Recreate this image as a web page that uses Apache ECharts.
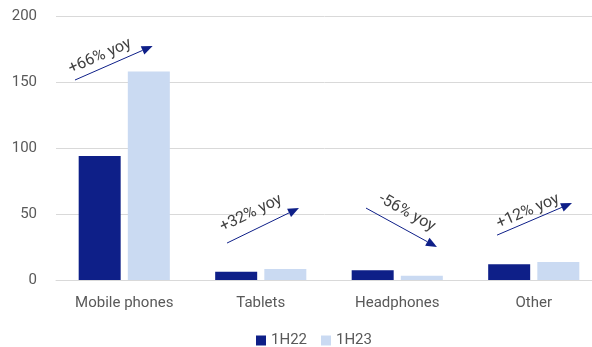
<!DOCTYPE html>
<html>
<head>
<meta charset="utf-8">
<script src="https://cdn.jsdelivr.net/npm/echarts@6/dist/echarts.min.js"></script>
<style>
  html, body { margin: 0; padding: 0; background: #ffffff; }
  #chart { width: 592px; height: 347px; }
</style>
</head>
<body>
<div id="chart"></div>
<script>
// Device sales by category, first half of each year
const categories = ['Mobile phones', 'Tablets', 'Headphones', 'Other'];
const sales1H22 = [94, 6.3, 7.3, 12];
const sales1H23 = [158, 8.3, 3.3, 13.6];
const yoyLabels = ['+66% yoy', '+32% yoy', '-56% yoy', '+12% yoy'];
const yTicks = [0, 50, 100, 150, 200];

// Arrow layout in axis units: [xStart, yStart, xEnd, yEnd, xText, yText]
// (x measured in category slots, 0 = first category centre)
const arrowLayout = [
  [-0.361, 151.5, 0.208, 177.3, -0.178, 169.5],
  [0.753, 28, 1.280, 54.5, 0.929, 50.5],
  [1.771, 54.5, 2.291, 25, 2.071, 51],
  [2.731, 34, 3.280, 58.3, 2.958, 52]
];

const DARK = '#0E1F88';
const LIGHT = '#CADAF2';
const TEXT = '#595959';
const GRID = '#D9D9D9';
const FONT = 'Roboto, "Liberation Sans", sans-serif';

const arrowData = arrowLayout.map((a, i) => a.concat([yoyLabels[i]]));

const chart = echarts.init(document.getElementById('chart'), null, { renderer: 'canvas' });

chart.setOption({
  animation: false,
  textStyle: { fontFamily: FONT },
  // plot area runs slightly past the right edge of the canvas
  grid: {
    left: 56, top: 16, width: 546, height: 264,
    containLabel: false,
    outerBoundsMode: 'none'
  },
  legend: {
    data: ['1H22', '1H23'],
    left: 256,
    top: 333,
    itemWidth: 10,
    itemHeight: 10,
    itemGap: 14,
    icon: 'rect',
    textStyle: { color: TEXT, fontSize: 15, fontFamily: FONT, padding: [0, 0, 0, 0] },
    padding: 0
  },
  xAxis: [
    {
      type: 'category',
      data: categories,
      axisLine: { show: true, lineStyle: { color: GRID, width: 1 } },
      axisTick: { show: false },
      axisLabel: { color: TEXT, fontSize: 15, margin: 16, fontFamily: FONT }
    },
    {
      type: 'value',
      min: -0.5,
      max: 3.5,
      show: false
    }
  ],
  yAxis: {
    type: 'value',
    min: yTicks[0],
    max: yTicks[yTicks.length - 1],
    interval: yTicks[1] - yTicks[0],
    axisLine: { show: false },
    axisTick: { show: false },
    axisLabel: { color: TEXT, fontSize: 15, margin: 19, fontFamily: FONT },
    splitLine: { lineStyle: { color: GRID, width: 1 } }
  },
  series: [
    {
      name: '1H22',
      type: 'bar',
      data: sales1H22,
      barWidth: 42,
      barGap: '17%',
      itemStyle: { color: DARK }
    },
    {
      name: '1H23',
      type: 'bar',
      data: sales1H23,
      barWidth: 42,
      barGap: '17%',
      itemStyle: { color: LIGHT }
    },
    {
      name: 'yoy',
      type: 'custom',
      xAxisIndex: 1,
      yAxisIndex: 0,
      silent: true,
      clip: false,
      z: 5,
      data: arrowData,
      encode: { x: [0, 2, 4], y: [1, 3, 5] },
      renderItem: function (params, api) {
        const p0 = api.coord([api.value(0), api.value(1)]);
        const p1 = api.coord([api.value(2), api.value(3)]);
        const pt = api.coord([api.value(4), api.value(5)]);
        const label = arrowData[params.dataIndex][6];
        const dx = p1[0] - p0[0];
        const dy = p1[1] - p0[1];
        const len = Math.sqrt(dx * dx + dy * dy);
        const ux = dx / len, uy = dy / len;
        const headLen = 11, headHalf = 4.5;
        const bx = p1[0] - ux * headLen, by = p1[1] - uy * headLen;
        const nx = -uy, ny = ux;
        return {
          type: 'group',
          children: [
            {
              type: 'line',
              shape: { x1: p0[0], y1: p0[1], x2: bx, y2: by },
              style: { stroke: DARK, lineWidth: 1 }
            },
            {
              type: 'polygon',
              shape: {
                points: [
                  [p1[0], p1[1]],
                  [bx + nx * headHalf, by + ny * headHalf],
                  [bx - nx * headHalf, by - ny * headHalf]
                ]
              },
              style: { fill: DARK }
            },
            {
              type: 'text',
              x: pt[0],
              y: pt[1],
              rotation: Math.atan2(-dy, dx),
              style: {
                text: label,
                fill: '#404040',
                font: '16px ' + FONT,
                align: 'center',
                verticalAlign: 'middle'
              }
            }
          ]
        };
      }
    }
  ]
});
</script>
</body>
</html>
